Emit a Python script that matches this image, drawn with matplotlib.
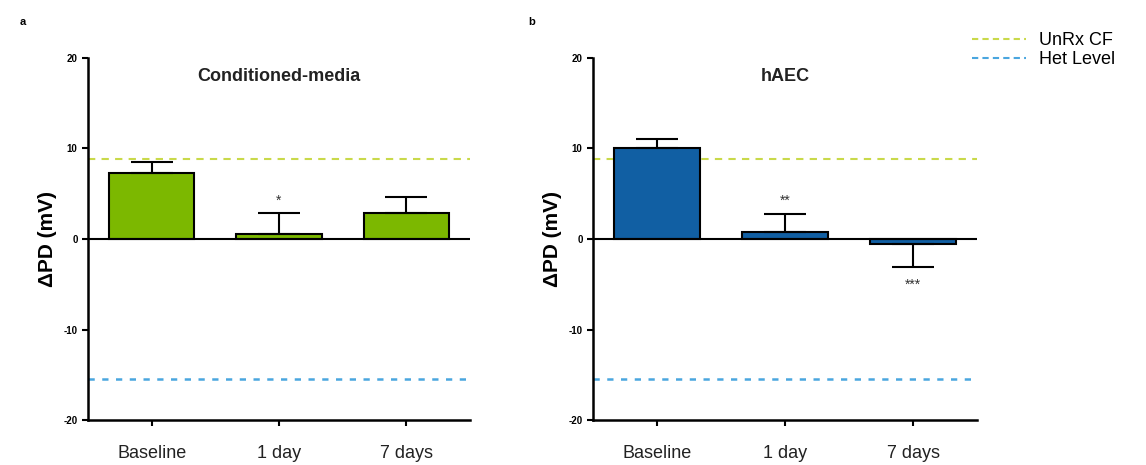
import matplotlib.pyplot as plt
import numpy as np
from matplotlib.lines import Line2D

plt.rcParams['font.family'] = ['Liberation Sans', 'DejaVu Sans']

# data
groups = ['Baseline', '1 day', '7 days']
cm_mean = [7.3, 0.5, 2.9]
cm_err = [1.25, 2.4, 1.7]
cm_stars = ['', '*', '']
haec_mean = [10.0, 0.8, -0.6]
haec_err = [1.0, 2.0, 2.5]
haec_stars = ['', '**', '***']
unrx_cf = 8.8
het_level = -15.5

green = '#7cb800'
blue = '#115fa3'
unrx_col = '#c9d94a'
het_col = '#4aa6df'

fig = plt.figure(figsize=(11.46, 4.65), dpi=100)
ax_a = fig.add_axes([88/1146, 45/465, 382/1146, 362/465])
ax_b = fig.add_axes([593/1146, 45/465, 384/1146, 362/465])


def panel(ax, means, errs, stars, color, title):
    x = np.arange(len(groups))
    ax.bar(x, means, width=0.67, color=color, edgecolor='black', linewidth=1.5, zorder=3)
    # one-sided error bars, in the direction of the bar
    lower = [e if m < 0 else 0 for m, e in zip(means, errs)]
    upper = [0 if m < 0 else e for m, e in zip(means, errs)]
    ax.errorbar(x, means, yerr=[lower, upper], fmt='none', ecolor='black',
                elinewidth=1.5, capsize=15, capthick=1.5, zorder=4)
    for xi, m, e, s in zip(x, means, errs, stars):
        if not s:
            continue
        if m < 0:
            ax.text(xi, m - e - 1.2, s, ha='center', va='top', fontsize=10, color='#333333')
        else:
            ax.text(xi, m + e + 0.6, s, ha='center', va='bottom', fontsize=10, color='#333333')
    ax.axhline(0, color='black', lw=1.5, zorder=5)
    ax.axhline(unrx_cf, color=unrx_col, lw=1.5, ls=(0, (3.5, 3)), zorder=2)
    ax.axhline(het_level, color=het_col, lw=1.8, ls=(0, (2.5, 3)), zorder=2)

    ax.set_xlim(-0.5, 2.5)
    ax.set_ylim(-20, 20)
    ax.set_yticks([-20, -10, 0, 10, 20])
    ax.set_yticklabels(['-20', '-10', '0', '10', '20'], fontsize=7, fontweight='bold')
    ax.set_xticks(x)
    ax.set_xticklabels(groups, fontsize=13, color='#222222')
    ax.tick_params(axis='both', direction='out', length=4, width=1.5)
    ax.tick_params(axis='x', pad=14)
    for side in ['top', 'right']:
        ax.spines[side].set_visible(False)
    for side in ['left', 'bottom']:
        ax.spines[side].set_linewidth(1.8)
    ax.set_ylabel('ΔPD (mV)', fontsize=15, fontweight='bold', labelpad=5)
    ax.text(1.0, 18.0, title, ha='center', va='center', fontsize=13, fontweight='bold',
            color='#222222')


panel(ax_a, cm_mean, cm_err, cm_stars, green, 'Conditioned-media')
panel(ax_b, haec_mean, haec_err, haec_stars, blue, 'hAEC')

fig.text(20/1146, 1 - 22/465, 'a', fontsize=8, fontweight='bold', va='center')
fig.text(528/1146, 1 - 22/465, 'b', fontsize=8, fontweight='bold', va='center')

# legend for the reference lines
handles = [Line2D([], [], color=unrx_col, lw=1.5, ls=(0, (3, 2))),
           Line2D([], [], color=het_col, lw=1.5, ls=(0, (3, 2)))]
fig.legend(handles, ['UnRx CF', 'Het Level'], loc='upper left',
           bbox_to_anchor=(965/1146, 1 - 25/465), frameon=False, fontsize=13,
           handlelength=3.0, handletextpad=0.7, labelspacing=0.12, borderaxespad=0)

fig.savefig('out.png', dpi=100)
